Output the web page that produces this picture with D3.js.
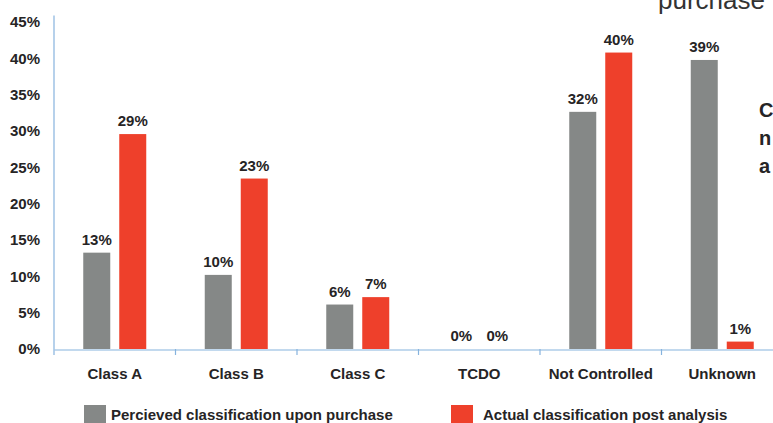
<!DOCTYPE html>
<html>
<head>
<meta charset="utf-8">
<script src="https://cdn.jsdelivr.net/npm/d3@7"></script>
<style>
  html, body { margin: 0; padding: 0; background: #fff; }
  svg { display: block; }
  text { font-family: "Liberation Sans", Arial, Helvetica, sans-serif; }
</style>
</head>
<body>
<svg id="chart" width="773" height="423"></svg>
<script>
// Classification shares, perceived at purchase vs. found after analysis
const categories = ["Class A", "Class B", "Class C", "TCDO", "Not Controlled", "Unknown"];
const perceived = [13, 10, 6, 0, 32, 39];
const actual = [29, 23, 7, 0, 40, 1];
const yTicks = [0, 5, 10, 15, 20, 25, 30, 35, 40, 45];
const seriesNames = ["Percieved classification upon purchase", "Actual classification post analysis"];

const colors = { perceived: "#858887", actual: "#EE402B", axis: "#86B3DE", text: "#262425" };
const fontSize = 15;

const svg = d3.select("#chart");

const plot = { left: 54, right: 783, top: 15.5, bottom: 349 };

const x = d3.scaleBand().domain(categories).range([plot.left, plot.right]).paddingInner(0).paddingOuter(0);
const y = d3.scaleLinear().domain([0, 45]).range([plot.bottom, plot.top]);
// tick labels sit slightly lower toward the top of the axis
const yLabel = d3.scaleLinear().domain([0, 45]).range([plot.bottom, 22]);

const barW = 27, gap = 9;
const series = [
  { key: "perceived", values: perceived, offset: -(gap / 2 + barW) },
  { key: "actual", values: actual, offset: gap / 2 }
];

// bars with value labels
series.forEach(s => {
  svg.append("g").selectAll("rect")
    .data(categories)
    .join("rect")
    .attr("x", (d) => x(d) + x.bandwidth() / 2 + s.offset)
    .attr("y", (d, i) => y(s.values[i]))
    .attr("width", barW)
    .attr("height", (d, i) => plot.bottom - y(s.values[i]))
    .attr("fill", colors[s.key]);

  svg.append("g").selectAll("text")
    .data(categories)
    .join("text")
    .attr("x", (d) => x(d) + x.bandwidth() / 2 + s.offset + barW / 2)
    .attr("y", (d, i) => y(s.values[i]) - 8)
    .attr("text-anchor", "middle")
    .attr("font-size", fontSize)
    .attr("font-weight", "bold")
    .attr("fill", colors.text)
    .text((d, i) => s.values[i] + "%");
});

// y axis line
svg.append("line")
  .attr("x1", plot.left).attr("x2", plot.left)
  .attr("y1", y(45)).attr("y2", plot.bottom)
  .attr("stroke", colors.axis).attr("stroke-width", 1.2);

// y tick labels
svg.append("g").selectAll("text")
  .data(yTicks)
  .join("text")
  .attr("x", 40)
  .attr("y", d => yLabel(d))
  .attr("dy", "0.35em")
  .attr("text-anchor", "end")
  .attr("font-size", fontSize)
  .attr("font-weight", "bold")
  .attr("fill", colors.text)
  .text(d => d + "%");

// x axis
const xAxis = d3.axisBottom(x).tickSize(0).tickFormat("");
const gx = svg.append("g").attr("transform", `translate(0,${plot.bottom + 0.5})`).call(xAxis);
gx.select(".domain").attr("stroke", colors.axis).attr("stroke-width", 1.2);

// tick marks at category boundaries
const bounds = categories.map(c => x(c)).concat([plot.right]);
svg.append("g").selectAll("line")
  .data(bounds)
  .join("line")
  .attr("x1", d => d).attr("x2", d => d)
  .attr("y1", plot.bottom).attr("y2", plot.bottom + 6)
  .attr("stroke", colors.axis).attr("stroke-width", 1.2);

// category labels
svg.append("g").selectAll("text")
  .data(categories)
  .join("text")
  .attr("x", d => x(d) + x.bandwidth() / 2)
  .attr("y", 379)
  .attr("text-anchor", "middle")
  .attr("font-size", fontSize)
  .attr("font-weight", "bold")
  .attr("fill", colors.text)
  .text(d => d);

// legend
const legend = [
  { name: seriesNames[0], color: colors.perceived, x: 84, tx: 27 },
  { name: seriesNames[1], color: colors.actual, x: 451, tx: 32 }
];
const lg = svg.append("g").selectAll("g").data(legend).join("g")
  .attr("transform", d => `translate(${d.x},405)`);
lg.append("rect").attr("width", 22).attr("height", 18).attr("fill", d => d.color);
lg.append("text")
  .attr("x", d => d.tx).attr("y", 14.5)
  .attr("font-size", fontSize)
  .attr("font-weight", "bold")
  .attr("fill", colors.text)
  .text(d => d.name);

// neighbouring slide text running in from the right edge
svg.append("text")
  .attr("x", 658).attr("y", 9)
  .attr("font-size", 26)
  .attr("fill", "#333")
  .text("purchase");
["C", "n", "a"].forEach((t, i) => {
  svg.append("text")
    .attr("x", 759).attr("y", 117 + i * 28)
    .attr("font-size", 20)
    .attr("font-weight", "bold")
    .attr("fill", colors.text)
    .text(t);
});
</script>
</body>
</html>
